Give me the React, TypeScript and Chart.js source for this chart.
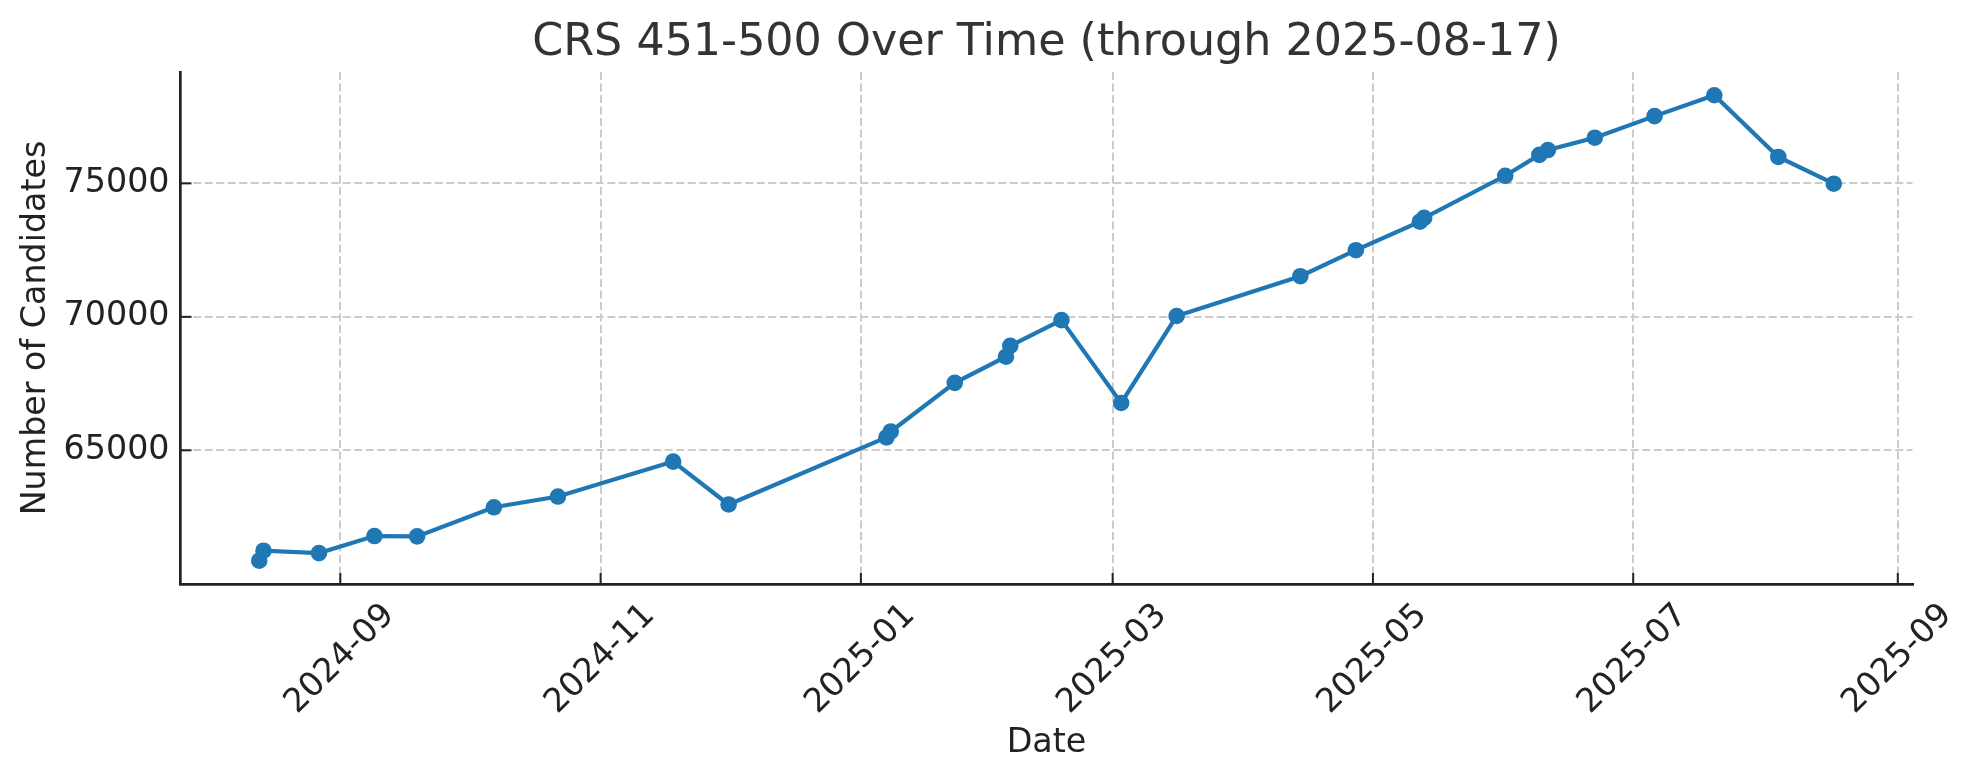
import React, { useEffect, useRef } from 'react';
import { Chart, registerables } from 'chart.js';

Chart.register(...registerables);

// ---- data ----
const dates = [
  '2024-08-13', '2024-08-14', '2024-08-27', '2024-09-09', '2024-09-19',
  '2024-10-07', '2024-10-22', '2024-11-18', '2024-12-01', '2025-01-07',
  '2025-01-08', '2025-01-23', '2025-02-04', '2025-02-05', '2025-02-17',
  '2025-03-03', '2025-03-16', '2025-04-14', '2025-04-27', '2025-05-12',
  '2025-05-13', '2025-06-01', '2025-06-09', '2025-06-11', '2025-06-22',
  '2025-07-06', '2025-07-20', '2025-08-04', '2025-08-17',
];
const candidates = [
  60863, 61237, 61148, 61788, 61776,
  62866, 63267, 64576, 62970, 65485,
  65705, 67527, 68505, 68914, 69877,
  66772, 70031, 71522, 72496, 73563,
  73706, 75285, 76067, 76248, 76710,
  77519, 78301, 75990, 74988,
];
const xTickDates = ['2024-09-01', '2024-11-01', '2025-01-01', '2025-03-01', '2025-05-01', '2025-07-01', '2025-09-01'];
const xTickLabels = ['2024-09', '2024-11', '2025-01', '2025-03', '2025-05', '2025-07', '2025-09'];
const yTickValues = [65000, 70000, 75000];

const titleText = 'CRS 451-500 Over Time (through 2025-08-17)';
const xTitleText = 'Date';
const yTitleText = 'Number of Candidates';

// ---- helpers ----
const DAY = 86400000;
const toDay = (s: string) =>
  Date.UTC(+s.slice(0, 4), +s.slice(5, 7) - 1, +s.slice(8, 10)) / DAY;

const FAMILY = '"DejaVu Sans", "Liberation Sans", sans-serif';
const LINE_COLOR = '#1f77b4';

const inwardTicks = {
  id: 'inwardTicks',
  afterDraw(chart: any) {
    const { ctx, chartArea, scales } = chart;
    ctx.save();
    ctx.strokeStyle = '#222222';
    ctx.lineWidth = 2;
    const len = 11;
    scales.x.ticks.forEach((_t: any, i: number) => {
      const px = scales.x.getPixelForTick(i);
      ctx.beginPath();
      ctx.moveTo(px, chartArea.bottom);
      ctx.lineTo(px, chartArea.bottom - len);
      ctx.stroke();
    });
    scales.y.ticks.forEach((_t: any, i: number) => {
      const py = scales.y.getPixelForTick(i);
      ctx.beginPath();
      ctx.moveTo(chartArea.left, py);
      ctx.lineTo(chartArea.left + len, py);
      ctx.stroke();
    });
    ctx.restore();
  },
};

export default function App() {
  const ref = useRef<HTMLCanvasElement | null>(null);

  useEffect(() => {
    if (!ref.current) return;
    const xs = dates.map(toDay);
    const xLo = Math.min(...xs);
    const xHi = Math.max(...xs);
    const yLo = Math.min(...candidates);
    const yHi = Math.max(...candidates);
    const xPad = (xHi - xLo) * 0.05;
    const yPad = (yHi - yLo) * 0.05;

    const tickFont = { family: FAMILY, size: 33.3 };

    const chart = new Chart(ref.current, {
      type: 'line',
      data: {
        datasets: [
          {
            data: xs.map((x, i) => ({ x, y: candidates[i] })),
            borderColor: LINE_COLOR,
            backgroundColor: LINE_COLOR,
            borderWidth: 4.2,
            pointRadius: 8.3,
            pointBackgroundColor: LINE_COLOR,
            pointBorderWidth: 0,
            pointHoverRadius: 8.3,
            tension: 0,
            fill: false,
          },
        ],
      },
      options: {
        responsive: false,
        animation: false,
        devicePixelRatio: 1,
        layout: { padding: { left: 0, right: 65.5, top: 0, bottom: 0 } },
        plugins: {
          legend: { display: false },
          tooltip: { enabled: false },
          title: {
            display: true,
            text: titleText,
            fullSize: false,
            color: '#333333',
            font: { family: FAMILY, size: 44.4, weight: 'normal' },
            padding: { top: 17, bottom: 1.7 },
          },
        },
        scales: {
          x: {
            type: 'linear',
            min: xLo - xPad,
            max: xHi + xPad,
            afterBuildTicks: (s: any) => {
              s.ticks = xTickDates.map((d) => ({ value: toDay(d) }));
            },
            afterFit: (s: any) => {
              s.height = 196;
            },
            ticks: {
              autoSkip: false,
              minRotation: 45,
              maxRotation: 45,
              padding: 12,
              labelOffset: 49,
              color: '#222222',
              font: tickFont,
              callback: (_v: any, i: number) => xTickLabels[i],
            },
            grid: { color: '#cccccc', lineWidth: 2, drawTicks: false },
            border: { display: true, color: '#222222', width: 2.7, dash: [8, 3.5] },
            title: {
              display: true,
              text: xTitleText,
              color: '#222222',
              font: tickFont,
              padding: { top: 0, bottom: 16.5 },
            },
          },
          y: {
            type: 'linear',
            min: yLo - yPad,
            max: yHi + yPad,
            afterBuildTicks: (s: any) => {
              s.ticks = yTickValues.map((v) => ({ value: v }));
            },
            afterFit: (s: any) => {
              s.width = 180.5;
            },
            ticks: {
              padding: 11,
              color: '#222222',
              font: tickFont,
              callback: (v: any) => String(v),
            },
            grid: { color: '#cccccc', lineWidth: 2, drawTicks: false },
            border: { display: true, color: '#222222', width: 2.7, dash: [8, 3.5] },
            title: {
              display: true,
              text: yTitleText,
              color: '#222222',
              font: tickFont,
              padding: { top: 16, bottom: 0 },
            },
          },
        },
      },
      plugins: [inwardTicks],
    } as any);
    return () => chart.destroy();
  }, []);

  return (
    <div style={{ position: 'absolute', left: 0, top: 0, width: 1978, height: 780, background: '#ffffff' }}>
      <canvas ref={ref} width={1978} height={780} style={{ display: 'block', width: 1978, height: 780 }} />
    </div>
  );
}
